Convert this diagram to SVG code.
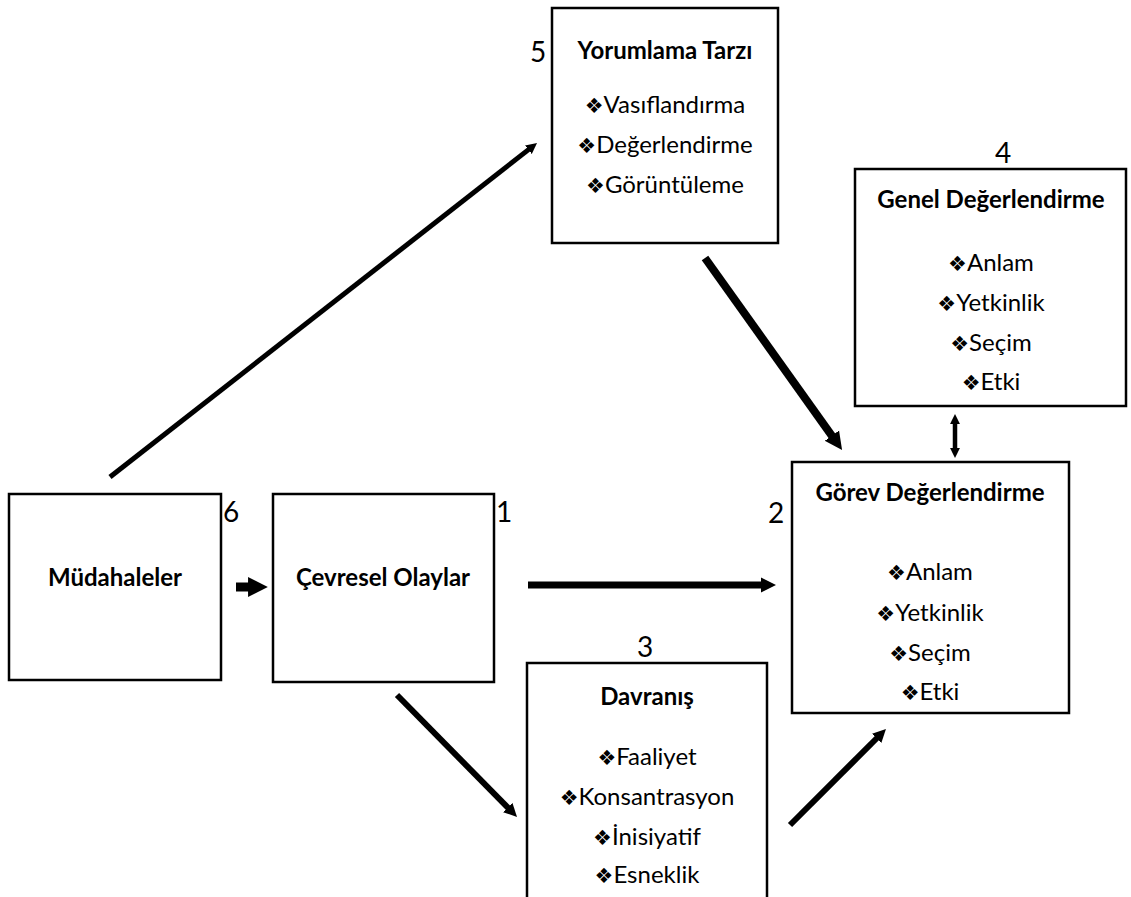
<svg xmlns="http://www.w3.org/2000/svg" width="1131" height="897" viewBox="0 0 1131 897">
<style>
.box{fill:#fff;stroke:#000;stroke-width:2.5}
.t{font-family:Lato,"DejaVu Sans",sans-serif;font-size:24px;font-weight:bold;text-anchor:middle;fill:#000}
.i{font-family:Lato,"DejaVu Sans",sans-serif;font-size:24px;text-anchor:middle;fill:#000}
.b{font-family:"DejaVu Sans",sans-serif;font-size:21px}
.n{font-family:Lato,"DejaVu Sans",sans-serif;font-size:28px;text-anchor:middle;fill:#000}
.c{stroke:#000;fill:none;marker-end:url(#ah)}
</style>
<defs>
<marker id="ah" viewBox="0 0 10 10" refX="2" refY="5" markerWidth="2.2" markerHeight="2.4" markerUnits="strokeWidth" orient="auto-start-reverse">
<path d="M0,0 L10,5 L0,10 z" fill="#000"/>
</marker>
</defs>
<rect width="1131" height="897" fill="#fff"/>
<g id="connectors">
<line class="c" x1="110" y1="477" x2="530.1" y2="148.4" stroke-width="5"/>
<line class="c" x1="705" y1="258" x2="833.9" y2="438.6" stroke-width="8"/>
<line class="c" x1="528" y1="585" x2="763.7" y2="585" stroke-width="7"/>
<line class="c" x1="397" y1="695" x2="509.6" y2="809.4" stroke-width="6"/>
<line class="c" x1="790" y1="825" x2="878.5" y2="736.5" stroke-width="6"/>
<line class="c" x1="236" y1="587" x2="252" y2="587" stroke-width="9"/>
<line class="c" x1="955" y1="422" x2="955" y2="450" stroke-width="4.5" style="marker-start:url(#ah)"/>
</g>
<g id="node5">
<rect class="box" x="552" y="8" width="226" height="235"/>
<text class="t" x="665" y="59">Yorumlama Tarzı</text>
<text class="i" x="665" y="113"><tspan class="b">❖</tspan>Vasıflandırma</text>
<text class="i" x="665" y="153"><tspan class="b">❖</tspan>Değerlendirme</text>
<text class="i" x="665" y="193"><tspan class="b">❖</tspan>Görüntüleme</text>
<text class="n" x="538" y="62">5</text>
</g>
<g id="node4">
<rect class="box" x="855" y="169" width="271" height="237"/>
<text class="t" x="991" y="208">Genel Değerlendirme</text>
<text class="i" x="991" y="271"><tspan class="b">❖</tspan>Anlam</text>
<text class="i" x="991" y="311"><tspan class="b">❖</tspan>Yetkinlik</text>
<text class="i" x="991" y="351"><tspan class="b">❖</tspan>Seçim</text>
<text class="i" x="991" y="390"><tspan class="b">❖</tspan>Etki</text>
<text class="n" x="1003" y="163">4</text>
</g>
<g id="node2">
<rect class="box" x="792" y="462" width="277" height="251"/>
<text class="t" x="930" y="501">Görev Değerlendirme</text>
<text class="i" x="930" y="580"><tspan class="b">❖</tspan>Anlam</text>
<text class="i" x="930" y="621"><tspan class="b">❖</tspan>Yetkinlik</text>
<text class="i" x="930" y="661"><tspan class="b">❖</tspan>Seçim</text>
<text class="i" x="930" y="700"><tspan class="b">❖</tspan>Etki</text>
<text class="n" x="776" y="523">2</text>
</g>
<g id="node3">
<rect class="box" x="527" y="663" width="240" height="260"/>
<text class="t" x="647" y="705">Davranış</text>
<text class="i" x="647" y="765"><tspan class="b">❖</tspan>Faaliyet</text>
<text class="i" x="647" y="805"><tspan class="b">❖</tspan>Konsantrasyon</text>
<text class="i" x="647" y="845"><tspan class="b">❖</tspan>İnisiyatif</text>
<text class="i" x="647" y="883"><tspan class="b">❖</tspan>Esneklik</text>
<text class="n" x="645" y="657">3</text>
</g>
<g id="node6">
<rect class="box" x="9" y="494" width="212" height="186"/>
<text class="t" x="115" y="586">Müdahaleler</text>
<text class="n" x="231" y="522">6</text>
</g>
<g id="node1">
<rect class="box" x="273" y="494" width="221" height="188"/>
<text class="t" x="383" y="586">Çevresel Olaylar</text>
<text class="n" x="504" y="522">1</text>
</g>
</svg>
